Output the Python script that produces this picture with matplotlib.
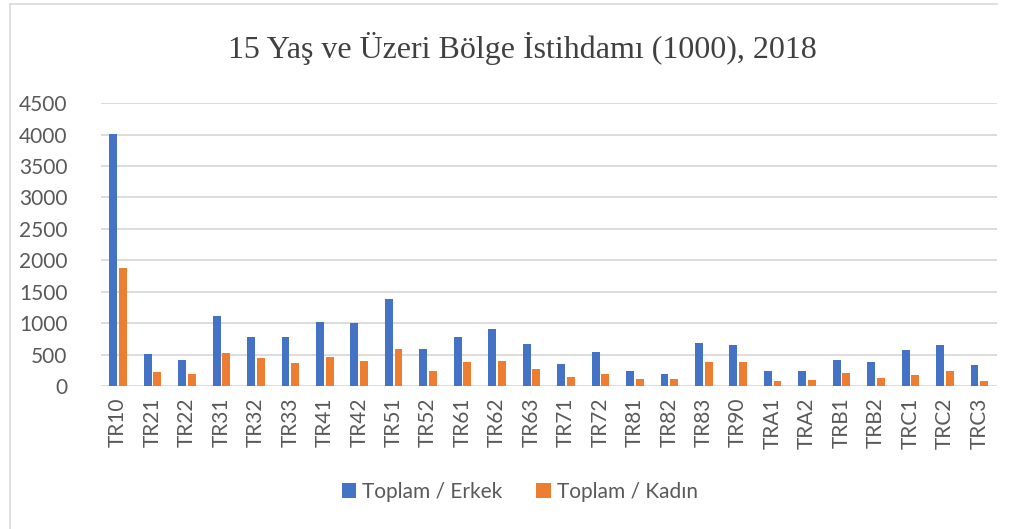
import numpy as np
import matplotlib.pyplot as plt
from matplotlib.lines import Line2D

regions = ['TR10', 'TR21', 'TR22', 'TR31', 'TR32', 'TR33', 'TR41', 'TR42', 'TR51',
           'TR52', 'TR61', 'TR62', 'TR63', 'TR71', 'TR72', 'TR81', 'TR82', 'TR83',
           'TR90', 'TRA1', 'TRA2', 'TRB1', 'TRB2', 'TRC1', 'TRC2', 'TRC3']
erkek = [4010, 512, 417, 1112, 783, 783, 1022, 1001, 1389,
         587, 774, 902, 673, 358, 545, 240, 187, 684,
         649, 239, 239, 420, 388, 580, 649, 340]
kadin = [1877, 226, 194, 523, 449, 369, 465, 401, 592,
         246, 390, 406, 272, 150, 187, 117, 117, 390,
         383, 90, 101, 202, 122, 170, 239, 80]

label_color = '#595959'
tick_font = 'Lato'

fig = plt.figure(figsize=(10.19, 5.29), dpi=100)
ax = fig.add_axes([0.099, 0.270, 0.879, 0.535])

x = np.arange(len(regions))
w = 0.23
ax.bar(x - 0.14, erkek, w, color='#4472C4', label='Toplam / Erkek', zorder=3)
ax.bar(x + 0.14, kadin, w, color='#ED7D31', label='Toplam / Kadın', zorder=3)

ax.set_xlim(-0.5, len(regions) - 0.5)
ax.set_ylim(0, 4500)
ax.set_yticks(np.arange(0, 4501, 500))
ax.grid(axis='y', color='#d9d9d9', linewidth=1.3, zorder=0)
for s in ax.spines.values():
    s.set_visible(False)
ax.tick_params(length=0, colors=label_color, labelsize=15)
ax.tick_params(axis='y', pad=24)
ax.tick_params(axis='x', pad=8)
ax.set_xticks(x)
ax.set_xticklabels(regions, rotation=90)
for lbl in ax.get_xticklabels() + ax.get_yticklabels():
    lbl.set_fontfamily(tick_font)
    lbl.set_color(label_color)

fig.suptitle('15 Yaş ve Üzeri Bölge İstihdamı (1000), 2018', x=0.513, y=0.94,
             fontsize=23, family='Liberation Serif', color='#404040')

fig.legend(loc='center', bbox_to_anchor=(0.51, 0.07), ncol=2, frameon=False,
           prop={'family': tick_font, 'size': 15}, labelcolor=label_color,
           handlelength=0.7, handleheight=0.7, columnspacing=1.6, handletextpad=0.3)

# light chart-area border (top and left edges visible in the crop)
fig.add_artist(Line2D([10 / 1019, 997 / 1019], [1 - 4 / 529, 1 - 4 / 529],
                      transform=fig.transFigure, color='#d9d9d9', linewidth=1.2))
fig.add_artist(Line2D([10 / 1019, 10 / 1019], [0, 1 - 4 / 529],
                      transform=fig.transFigure, color='#d9d9d9', linewidth=1.2))

fig.savefig('out.png', dpi=100)
